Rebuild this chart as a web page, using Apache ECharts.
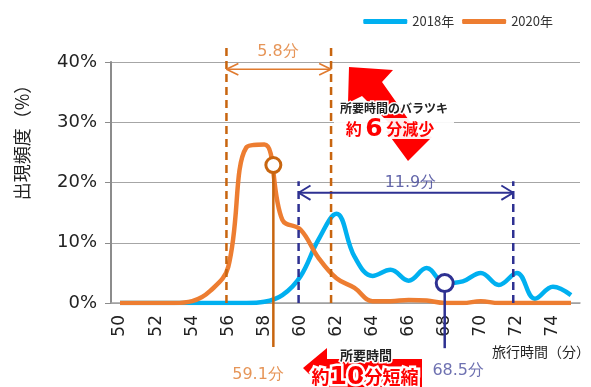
<!DOCTYPE html>
<html>
<head>
<meta charset="utf-8">
<script src="https://cdn.jsdelivr.net/npm/echarts@6/dist/echarts.min.js"></script>
<style>
  html, body { margin: 0; padding: 0; background: #fff; }
  #chart { width: 591px; height: 387px; }
</style>
</head>
<body>
<div id="chart"></div>
<script>
// 旅行時間 (分)
const minutes = ['50','51','52','53','54','55','56','57','58','59','60','61','62',
  '63','64','65','66','67','68','69','70','71','72','73','74','75']
// 出現頻度 (%)
const freq2018 = [0, 0, 0, 0, 0, 0, 0, 0, 0.2, 1.3, 4.4, 10.5, 14.8,
  7.7, 4.5, 5.5, 3.7, 5.8, 3.3, 3.6, 5.0, 3.0, 5.0, 0.7, 2.7, 1.3]
const freq2020 = [0, 0, 0, 0, 0.3, 2.0, 6.0, 25.8, 26.3, 13.8, 12.2, 7.5, 4.1,
  2.5, 0.3, 0.3, 0.5, 0.4, 0, 0, 0.3, 0, 0, 0, 0, 0]
const yTicks = [0, 10, 20, 30, 40]

// 注記 (分, %)
const range2020 = [55.9, 61.7]   // ばらつき幅 5.8分
const range2018 = [59.9, 71.8]   // ばらつき幅 11.9分
const mark2020 = [58.5, 22.9]    // 59.1分
const mark2018 = [68.0, 3.3]     // 68.5分

const BLUE = '#00B0F0'
const ORANGE = '#ED7D31'
const DARK_OR = '#C8650F'
const NAVY = '#2E3192'
const JP = '"Noto Sans CJK JP", sans-serif'
const NUM = '"DejaVu Sans", sans-serif'

const chart = echarts.init(document.getElementById('chart'))

// 縦線
const vline = (x, y0, y1, color, type, width) => ({
  type: 'line', xAxisIndex: 1, data: [[x, y0], [x, y1]],
  symbol: 'none', clip: false, silent: true,
  lineStyle: { color, width, type }
})

// 折れ線 (矢印用)
function path (pts, color, width) {
  return {
    type: 'line', xAxisIndex: 1, data: pts, symbol: 'none', clip: false,
    silent: true, lineStyle: { color, width }
  }
}

// 両矢印
const hArrow = (x0, x1, y, color, width, dx, dy) => [
  path([[x0, y], [x1, y]], color, width),
  path([[x0 + dx, y + dy], [x0, y], [x0 + dx, y - dy]], color, width),
  path([[x1 - dx, y + dy], [x1, y], [x1 - dx, y - dy]], color, width)
]

// テキスト注記
const note = (x, y, text, color) => ({
  type: 'scatter', xAxisIndex: 1, data: [[x, y]], symbolSize: 1, clip: false,
  silent: true, itemStyle: { color: 'transparent' },
  label: {
    show: true, position: 'inside', formatter: text, color,
    fontSize: 16, fontFamily: NUM
  }
})

const circle = (pt, color, size) => ({
  type: 'scatter', xAxisIndex: 1, data: [pt], symbol: 'circle', symbolSize: size,
  clip: false, silent: true, z: 5,
  itemStyle: { color: '#fff', opacity: 1, borderColor: color, borderWidth: 3 }
})

chart.setOption({
  animation: false,
  grid: { left: 111, right: 11, top: 62, bottom: 84 },
  legend: {
    data: ['2018年', '2020年'],
    right: 33, top: 10,
    icon: 'roundRect', itemWidth: 44, itemHeight: 5, itemGap: 8,
    textStyle: { fontSize: 13, color: '#333', fontFamily: JP }
  },
  xAxis: [{
    type: 'category',
    data: minutes,
    axisLine: { lineStyle: { color: '#A0A0A0', width: 1.5 } },
    axisTick: { interval: 0, length: 5, lineStyle: { color: '#A0A0A0' } },
    axisLabel: {
      interval: 1, rotate: 90, margin: 12,
      fontSize: 17, color: '#222', fontFamily: NUM
    }
  }, {
    type: 'value', min: 49.5, max: 75.5, show: false
  }],
  yAxis: {
    type: 'value', min: yTicks[0], max: yTicks[yTicks.length - 1], interval: 10,
    axisLine: { show: true, lineStyle: { color: '#8C8C8C', width: 2 } },
    axisTick: { show: true, length: 6, lineStyle: { color: '#8C8C8C' } },
    splitLine: { lineStyle: { color: '#A6A6A6', width: 1.2 } },
    axisLabel: {
      formatter: '{value}%', margin: 14,
      fontSize: 18, color: '#222', fontFamily: NUM
    }
  },
  series: [
    {
      name: '2018年', type: 'line', data: freq2018, smooth: 0.4,
      showSymbol: false, color: BLUE, lineStyle: { width: 4.5, color: BLUE }
    },
    {
      name: '2020年', type: 'line', data: freq2020, smooth: 0.4,
      showSymbol: false, color: ORANGE, lineStyle: { width: 4.5, color: ORANGE }
    },
    vline(range2020[0], 0, 42.5, DARK_OR, [8, 5], 2.5),
    vline(range2020[1], 0, 42.5, DARK_OR, [8, 5], 2.5),
    vline(range2018[0], 0, 20.2, NAVY, [8, 5], 2.5),
    vline(range2018[1], 0, 20.2, NAVY, [8, 5], 2.5),
    ...hArrow(range2020[0], range2020[1], 38.8, '#E07A2E', 1.6, 0.66, 0.95),
    ...hArrow(range2018[0], range2018[1], 18.3, NAVY, 2, 0.66, 1.2),
    vline(mark2020[0], mark2020[1], -7.3, DARK_OR, 'solid', 2.5),
    vline(mark2018[0], mark2018[1], -7.5, NAVY, 'solid', 2.5),
    circle(mark2020, DARK_OR, 15),
    circle(mark2018, NAVY, 17),
    note(58.76, 41.7, '5.8分', '#E07A2E'),
    note(66.1, 19.9, '11.9分', '#3D4196'),
    note(57.65, -12.0, '59.1分', '#E07A2E'),
    note(68.75, -11.3, '68.5分', '#4A4E9E')
  ],
  graphic: [
    // 縦軸タイトル
    {
      type: 'text', x: 22, y: 138, rotation: Math.PI / 2,
      style: {
        text: '出現頻度（%）', fill: '#222', font: '18px ' + JP,
        align: 'center', verticalAlign: 'middle'
      }
    },
    // 横軸タイトル
    {
      type: 'text', x: 590, y: 352,
      style: {
        text: '旅行時間（分）', fill: '#222', font: '14px ' + JP,
        align: 'right', verticalAlign: 'middle'
      }
    },
    // ばらつき減少の赤矢印
    {
      type: 'polygon', z: 10,
      shape: {
        points: [[349, 67], [393, 70], [382, 82], [418, 133], [432, 137],
          [408, 161], [386, 131], [398, 132], [362, 96], [348, 103]]
      },
      style: { fill: '#FF0000' }
    },
    {
      type: 'rect', z: 11,
      shape: { x: 334, y: 118, width: 120, height: 21 },
      style: { fill: 'rgba(255,255,255,0.92)' }
    },
    {
      type: 'text', z: 12, x: 394, y: 108,
      style: {
        text: '所要時間のバラツキ', fill: '#222', font: 'bold 12px ' + JP,
        align: 'center', verticalAlign: 'middle',
        stroke: '#fff', lineWidth: 3
      }
    },
    {
      type: 'text', z: 12, x: 390, y: 129,
      style: {
        text: '{a|約 }{b|6}{a| 分減少}',
        align: 'center', verticalAlign: 'middle',
        rich: {
          a: { fill: '#FF0000', font: 'bold 16px ' + JP },
          b: { fill: '#FF0000', font: 'bold 25px ' + NUM }
        }
      }
    },
    // 短縮の赤矢印
    {
      type: 'polygon', z: 10,
      shape: {
        points: [[303, 368], [327, 348], [327, 359], [422, 359], [422, 392],
          [327, 392]]
      },
      style: { fill: '#FF0000' }
    },
    {
      type: 'text', z: 12, x: 366, y: 355,
      style: {
        text: '所要時間', fill: '#222', font: 'bold 13px ' + JP,
        align: 'center', verticalAlign: 'middle',
        stroke: '#fff', lineWidth: 3
      }
    },
    {
      type: 'text', z: 12, x: 365, y: 377,
      style: {
        text: '{a|約}{b|10}{a|分短縮}',
        align: 'center', verticalAlign: 'middle',
        rich: {
          a: { fill: '#FF0000', font: 'bold 18px ' + JP, stroke: '#fff', lineWidth: 5 },
          b: { fill: '#FF0000', font: 'bold 25px ' + NUM, stroke: '#fff', lineWidth: 5 }
        }
      }
    }
  ]
})
</script>
</body>
</html>
